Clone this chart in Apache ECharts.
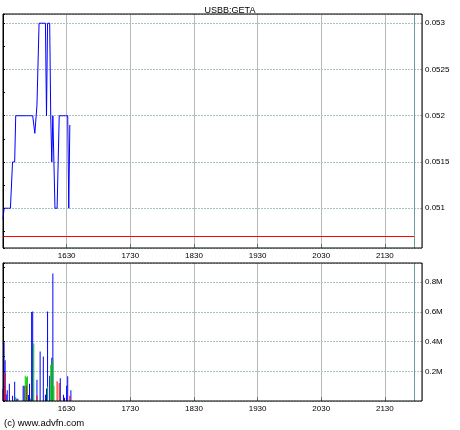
<!DOCTYPE html>
<html><head><meta charset="utf-8">
<script src="https://cdn.jsdelivr.net/npm/echarts@6/dist/echarts.min.js"></script>
<style>html,body{margin:0;padding:0;background:#fff}#c{width:460px;height:430px}</style>
</head><body><div id="c"></div>
<script>
const chartTitle = 'USBB:GETA';
const footerText = '(c) www.advfn.com';
const sessionStartMin = 930; // 15:30, minutes since midnight
const xTickLabels = ['1630', '1730', '1830', '1930', '2030', '2130'];
const priceMinutes = [0,1,2,3,4,5,6,7,8,9,10,11,12,13,14,15,16,17,18,19,20,21,22,23,24,25,26,27,28,29,30,31,32,33,34,35,36,37,38,39,40,41,42,43,44,45,46,47,48,49,50,51,52,53,54,55,56,57,58,59,60,61,62,63];
const priceValues = [
  0.05088,
  0.0510, 0.0510, 0.0510, 0.0510, 0.0510, 0.0510, 0.0510, 0.0510,
  0.0515, 0.0515, 0.0515,
  0.0520, 0.0520, 0.0520, 0.0520, 0.0520, 0.0520, 0.0520, 0.0520, 0.0520,
  0.0520, 0.0520, 0.0520, 0.0520, 0.0520, 0.0520, 0.0520, 0.0520, 0.0520,
  0.05181, 0.05181,
  0.05211, 0.05211,
  0.0530, 0.0530, 0.0530, 0.0530, 0.0530, 0.0530, 0.0530,
  0.0520,
  0.0530, 0.0530, 0.0530,
  0.0520,
  0.0515,
  0.0520, 0.0520,
  0.0510, 0.0510, 0.0510, 0.0510,
  0.0520, 0.0520, 0.0520, 0.0520, 0.0520, 0.0520, 0.0520, 0.0520, 0.0520,
  0.0510,
  0.0519
];
const prevClose = 0.0507;
const nowMinute = 388;
const priceMin = 0.05057, priceMax = 0.0531;
const volMax = 930000;
const volBlue = [[0,83000],[1,396000],[2,274000],[3,43000],[4,72000],[6,117000],[9,36000],[11,130000],[13,15000],[14,15000],[19,103000],[20,103000],[24,40000],[25,117000],[27,600000],[28,603000],[32,144000],[35,333000],[38,300000],[40,42000],[41,85000],[42,603000],[44,170000],[46,292000],[47,860000],[54,153000],[57,42000],[58,22000],[60,103000],[61,166000],[64,72000]];
const volGreen = [[12,27000],[21,170000],[22,160000],[23,166000],[26,17000],[29,387000],[42,100000],[45,245000],[46,245000],[47,279000],[48,103000]];
const volRed = [[1,76000],[2,189000],[22,103000],[32,37000],[51,133000],[53,122000],[63,36000]];

const FONT = 'Liberation Sans';
function hhmm(v) {
  const t = sessionStartMin + Math.round(v);
  const h = Math.floor(t / 60), m = t % 60;
  return String(h) + String(m).padStart(2, '0');
}
function xLabel(v) { const s = hhmm(v); return xTickLabels.includes(s) ? s : ''; }

function xAxisFor(gi) {
  return {
    gridIndex: gi, type: 'value', min: 0, max: 395, interval: 60, position: 'bottom',
    axisLine: { show: false },
    axisTick: { show: true, inside: true, length: 4, lineStyle: { color: '#4f7f7f' } },
    axisLabel: { formatter: xLabel, fontSize: 8, fontFamily: FONT, color: '#000', margin: 4, showMinLabel: false, showMaxLabel: false },
    splitLine: { show: true, lineStyle: { color: '#b8b8b8', width: 1 } }
  };
}

const chart = echarts.init(document.getElementById('c'), null, { renderer: 'canvas' });
chart.setOption({
  animation: false,
  backgroundColor: '#fff',
  title: { text: chartTitle, left: 'center', top: 1, textStyle: { fontSize: 9, fontWeight: 'normal', color: '#000', fontFamily: FONT } },
  graphic: [{ type: 'text', left: 4, top: 418, style: { text: footerText, font: '9.5px "Liberation Sans"', fill: '#000' } }],
  grid: [
    { left: 3, top: 14, width: 419, height: 234, show: true, z: 10, borderColor: '#000', borderWidth: 1, backgroundColor: 'rgba(0,0,0,0)' },
    { left: 3, top: 263, width: 419, height: 138, show: true, z: 10, borderColor: '#000', borderWidth: 1, backgroundColor: 'rgba(0,0,0,0)' }
  ],
  xAxis: [xAxisFor(0), xAxisFor(1)],
  yAxis: [
    {
      gridIndex: 0, type: 'value', position: 'right', min: priceMin, max: priceMax, splitNumber: 5,
      axisLine: { show: true, lineStyle: { color: '#000' } },
      axisTick: { show: true, length: 2, lineStyle: { color: '#000' } },
      minorTick: { show: true, splitNumber: 2, length: 2, lineStyle: { color: '#000' } },
      axisLabel: { fontSize: 8, fontFamily: FONT, color: '#000', margin: 3, showMinLabel: false, showMaxLabel: false },
      splitLine: { show: true, lineStyle: { color: '#a9c2c2', type: [2, 1] } }
    },
    {
      gridIndex: 1, type: 'value', position: 'right', min: 0, max: volMax, interval: 200000,
      axisLine: { show: true, lineStyle: { color: '#000' } },
      axisTick: { show: true, length: 2, lineStyle: { color: '#000' } },
      minorTick: { show: true, splitNumber: 2, length: 2, lineStyle: { color: '#000' } },
      axisLabel: { fontSize: 8, fontFamily: FONT, color: '#000', margin: 3, showMinLabel: false, showMaxLabel: false,
        formatter: v => (v / 1e6) + 'M' },
      splitLine: { show: true, lineStyle: { color: '#a9c2c2', type: [2, 1] } }
    }
  ],
  series: [
    {
      type: 'line', xAxisIndex: 0, yAxisIndex: 0, showSymbol: false, symbol: 'none',
      data: priceMinutes.map((m, i) => [m, priceValues[i]]),
      lineStyle: { color: '#0000ff', width: 1 }, z: 5,
      markLine: {
        silent: true, symbol: 'none', label: { show: false }, animation: false,
        data: [
          [{ coord: [0, prevClose], lineStyle: { color: '#ff0000', width: 1, type: 'solid' } }, { coord: [nowMinute, prevClose] }],
          { xAxis: nowMinute, lineStyle: { color: '#6e9a9a', width: 1, type: 'solid' } }
        ]
      }
    },
    {
      type: 'bar', xAxisIndex: 1, yAxisIndex: 1, barWidth: 1, barGap: '-100%', data: volBlue,
      itemStyle: { color: '#0000ff' },
      markLine: {
        silent: true, symbol: 'none', label: { show: false }, animation: false,
        data: [{ xAxis: nowMinute, lineStyle: { color: '#6e9a9a', width: 1, type: 'solid' } }]
      }
    },
    { type: 'bar', xAxisIndex: 1, yAxisIndex: 1, barWidth: 1, barGap: '-100%', data: volGreen, itemStyle: { color: '#00c800' } },
    { type: 'bar', xAxisIndex: 1, yAxisIndex: 1, barWidth: 1, barGap: '-100%', data: volRed, itemStyle: { color: '#ff0000' } }
  ]
});
</script></body></html>
